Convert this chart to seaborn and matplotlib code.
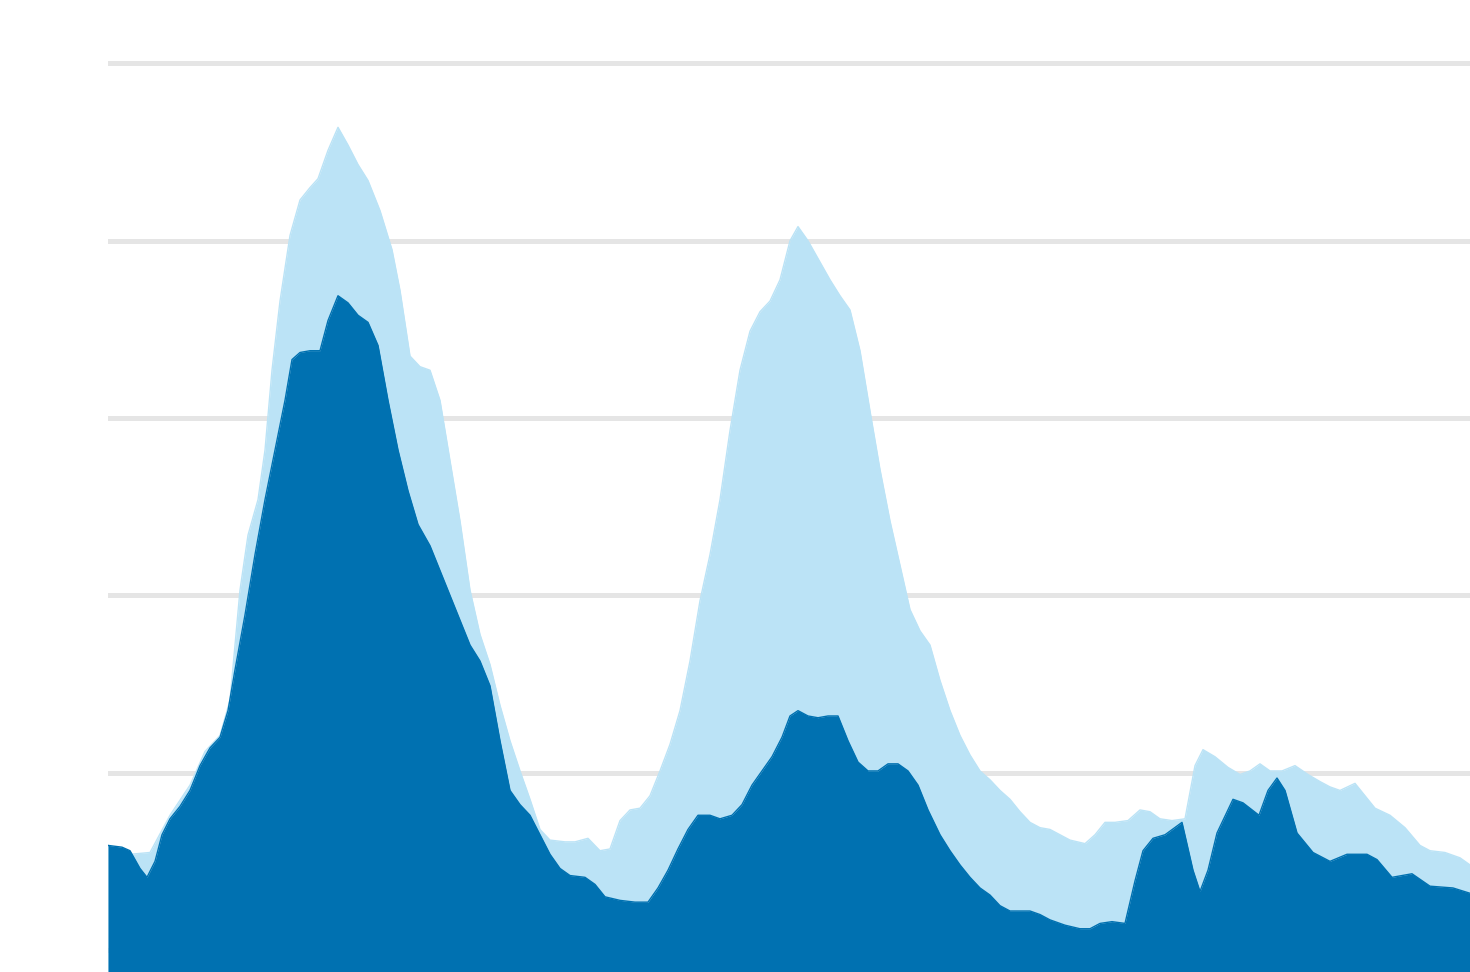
import numpy as np
import pandas as pd
import matplotlib
matplotlib.use("Agg")
import matplotlib.pyplot as plt
import seaborn as sns

# light series (total) - week index vs value
total_week = [0, 2.2, 4.2, 6.2, 8.2, 9.7, 11.2, 12.2, 13.2, 14.0, 15.0, 15.7, 16.4, 17.2,
              18.2, 19.2, 20.2, 21.0, 22.0, 23.0, 24.0, 25.0, 26.0, 27.2, 28.4, 29.2,
              30.2, 31.2, 32.2, 33.2, 34.2, 35.2, 36.2, 37.2, 38.2, 39.2, 40.2, 41.2,
              42.2, 43.2, 44.2, 45.7, 46.7, 48.0, 49.2, 50.2, 51.2, 52.2, 53.2, 54.2,
              55.2, 56.2, 57.2, 58.2, 59.2, 60.2, 61.2, 62.2, 63.2, 64.2, 65.2, 66.2,
              67.2, 68.2, 69.0, 70.0, 71.0, 72.2, 73.2, 74.2, 75.2, 76.2, 77.2, 78.2,
              79.2, 80.2, 81.2, 82.2, 83.2, 84.2, 85.2, 86.2, 87.2, 88.2, 89.2, 90.2,
              91.2, 92.2, 93.2, 94.2, 95.2, 96.2, 97.7, 98.7, 99.7, 100.7, 102.0, 103.2,
              104.2, 105.2, 106.4, 107.7, 108.7, 109.5, 110.7, 112.0, 113.2, 114.2,
              115.2, 116.2, 117.4, 118.7, 120.0, 121.2, 122.2, 123.2, 124.7, 125.7,
              126.7, 128.2, 129.7, 131.2, 132.2, 133.7, 135.2, 136.2]
total_val = [0.59, 0.54, 0.55, 0.76, 0.93, 1.12, 1.21, 1.41, 2.03, 2.34, 2.54, 2.82, 3.27, 3.66,
             4.03, 4.23, 4.30, 4.35, 4.51, 4.64, 4.54, 4.43, 4.34, 4.17, 3.95, 3.72,
             3.35, 3.29, 3.27, 3.10, 2.76, 2.42, 2.03, 1.78, 1.61, 1.38, 1.18, 1.01,
             0.85, 0.68, 0.62, 0.61, 0.61, 0.63, 0.56, 0.57, 0.73, 0.79, 0.80, 0.87,
             1.01, 1.16, 1.35, 1.63, 1.97, 2.23, 2.54, 2.93, 3.27, 3.49, 3.60, 3.66,
             3.78, 4.00, 4.08, 4.00, 3.90, 3.78, 3.69, 3.61, 3.38, 3.04, 2.71, 2.42,
             2.17, 1.92, 1.80, 1.72, 1.52, 1.35, 1.21, 1.10, 1.01, 0.96, 0.90, 0.85,
             0.78, 0.72, 0.69, 0.68, 0.65, 0.62, 0.60, 0.65, 0.72, 0.72, 0.73, 0.79,
             0.78, 0.74, 0.73, 0.74, 1.04, 1.13, 1.09, 1.03, 0.99, 1.01,
             1.05, 1.01, 1.01, 1.04, 0.99, 0.95, 0.92, 0.90, 0.94, 0.87,
             0.80, 0.76, 0.69, 0.59, 0.56, 0.55, 0.52, 0.48]

# dark series (subset) - week index vs value
sub_week = [0, 1.4, 2.2, 3.2, 3.9, 4.7, 5.4, 6.2, 7.2, 8.2, 9.2, 10.2, 11.2, 12.0, 12.7,
            13.7, 14.7, 15.7, 16.7, 17.7, 18.4, 19.2, 20.2, 21.2, 22.0, 23.0, 24.0,
            25.0, 26.0, 27.0, 28.0, 29.0, 30.0, 31.0, 32.2, 33.2, 34.2, 35.2, 36.2,
            37.2, 38.2, 39.2, 40.2, 41.2, 42.2, 43.2, 44.2, 45.2, 46.2, 47.7, 48.7,
            49.7, 51.2, 52.7, 54.0, 55.0, 56.0, 57.0, 58.0, 59.0, 60.2, 61.2, 62.4,
            63.4, 64.4, 65.4, 66.4, 67.4, 68.2, 69.0, 70.0, 71.0, 72.0, 73.0, 74.0,
            75.0, 76.0, 77.0, 78.0, 79.0, 80.0, 81.0, 82.0, 83.2, 84.2, 85.2, 86.2,
            87.2, 88.2, 89.2, 90.2, 91.2, 92.2, 93.2, 94.2, 95.7, 97.2, 98.2, 99.2,
            100.4, 101.7, 102.7, 103.5, 104.5, 105.7, 107.4, 108.5, 109.2, 110.0,
            110.9, 112.5, 113.5, 115.1, 116.0, 116.9, 117.7, 118.9, 120.5, 122.2,
            123.9, 125.9, 126.9, 128.4, 130.4, 132.2, 134.5, 136.2]
sub_val = [0.59, 0.58, 0.56, 0.46, 0.41, 0.50, 0.65, 0.74, 0.81, 0.90, 1.04, 1.14, 1.20, 1.35, 1.58,
           1.89, 2.23, 2.54, 2.82, 3.10, 3.33, 3.37, 3.38, 3.38, 3.55, 3.69, 3.65,
           3.58, 3.54, 3.41, 3.10, 2.82, 2.59, 2.40, 2.28, 2.14, 2.00, 1.86, 1.72,
           1.63, 1.49, 1.18, 0.90, 0.82, 0.76, 0.65, 0.54, 0.46, 0.42, 0.41, 0.37,
           0.30, 0.28, 0.27, 0.27, 0.35, 0.45, 0.57, 0.68, 0.76, 0.76, 0.74, 0.76,
           0.82, 0.93, 1.01, 1.09, 1.20, 1.32, 1.35, 1.32, 1.31, 1.32, 1.32, 1.18,
           1.06, 1.01, 1.01, 1.05, 1.05, 1.01, 0.93, 0.79, 0.65, 0.56, 0.48, 0.41,
           0.35, 0.31, 0.25, 0.22, 0.22, 0.22, 0.20, 0.17, 0.14, 0.12, 0.12, 0.15,
           0.16, 0.15, 0.39, 0.56, 0.63, 0.65, 0.72, 0.45, 0.33, 0.45,
           0.66, 0.85, 0.83, 0.76, 0.90, 0.97, 0.90, 0.66, 0.55, 0.50,
           0.54, 0.54, 0.51, 0.41, 0.43, 0.36, 0.35, 0.32]

grid_values = [0, 1, 2, 3, 4, 5]

light = "#BBE3F6"
dark = "#0071B1"

sns.set_theme(style="white")

fig = plt.figure(figsize=(14.7, 9.72), dpi=100)
ax = fig.add_axes([108 / 1470, 0, 1 - 108 / 1470, 1])

total = pd.DataFrame({"week": total_week, "value": total_val})
sub = pd.DataFrame({"week": sub_week, "value": sub_val})

base = -0.2
for v in grid_values:
    ax.axhline(v, color="#E5E5E5", lw=3.6, zorder=0)

ax.fill_between(total["week"], total["value"], base, color=light, lw=0, zorder=1)
sns.lineplot(data=total, x="week", y="value", color=light, lw=1, ax=ax, zorder=1)
ax.fill_between(sub["week"], sub["value"], base, color=dark, lw=0, zorder=2)
sns.lineplot(data=sub, x="week", y="value", color=dark, lw=1, ax=ax, zorder=2)

ax.set_xlim(0, 136.2)
ax.set_ylim(-0.124, 5.358)
ax.set_xticks([])
ax.set_yticks([])
ax.set_xlabel("")
ax.set_ylabel("")
for s in ax.spines.values():
    s.set_visible(False)

fig.savefig("out.png", dpi=100)
